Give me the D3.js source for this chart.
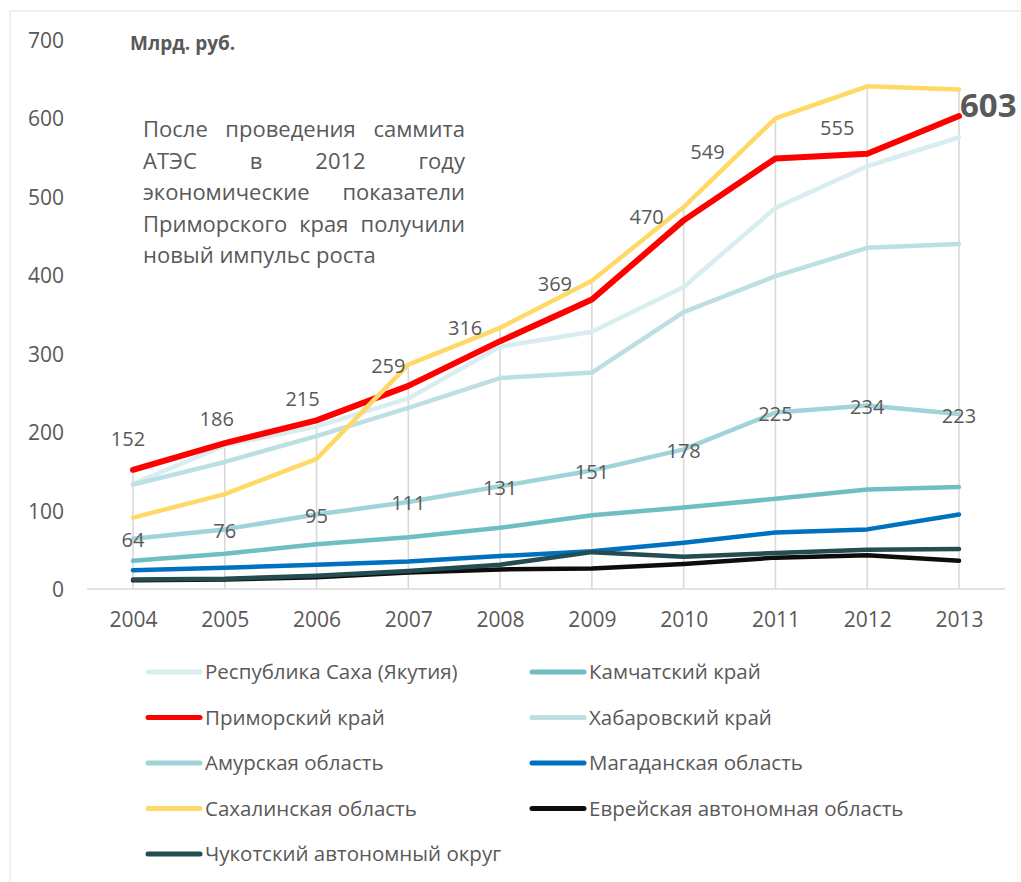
<!DOCTYPE html>
<html><head><meta charset="utf-8">
<script src="https://cdn.jsdelivr.net/npm/d3@7"></script>
<style>
html,body{margin:0;padding:0;background:#fff;}
svg{display:block;font-family:"Open Sans","Noto Sans",sans-serif;}
</style></head>
<body>
<svg id="chart" width="1021" height="882"></svg>
<script>
// ---------- DATA ----------
const years = ["2004","2005","2006","2007","2008","2009","2010","2011","2012","2013"];
const yTicks = [0,100,200,300,400,500,600,700];
const seriesNames = ["Республика Саха (Якутия)","Камчатский край","Приморский край","Хабаровский край","Амурская область","Магаданская область","Сахалинская область","Еврейская автономная область","Чукотский автономный округ"];
const sakha      = [134,183,207,243,309,328,385,486,539,576];
const kamchatka  = [36,45,57,66,78,94,104,115,127,130];
const primorsky  = [152,186,215,259,316,369,470,549,555,603];
const khabarovsk = [133,162,195,231,269,276,353,399,435,440];
const amur       = [64,76,95,111,131,151,178,225,234,223];
const magadan    = [24,27,31,35,42,48,59,72,76,95];
const sakhalin   = [91,121,166,286,333,393,487,600,641,637];
const jewish     = [11,12,15,21,25,26,32,40,43,36];
const chukotka   = [12,13,17,23,31,47,41,46,50,51];
const unitLabel = "Млрд. руб.";
const noteLines = ["После проведения саммита","АТЭС в 2012 году","экономические показатели","Приморского края получили","новый импульс роста"];

// ---------- STYLE ----------
const colors = ["#d9edf0","#70bec4","#ff0000","#bcdfe2","#a0d4d8","#0070c0","#ffd966","#0d0d0d","#234d51"];
const widths = [4.5,4.5,6,4.5,4.5,4.5,4.5,4.5,4.5];
const seriesData = [sakha,kamchatka,primorsky,khabarovsk,amur,magadan,sakhalin,jewish,chukotka];
// label offsets for Primorsky labels (placement, in px)
const primDx = [-5,-8,-14,-20,-35,-37,-37,-68,-30];
const primDy = [-31,-25,-22,-20,-14,-16,-4,-7,-26];
const textColor = "#595959";

const svg = d3.select("#chart");
svg.append("rect").attr("width",1021).attr("height",882).attr("fill","#fff");
// chart frame (top & left visible)
svg.append("rect").attr("x",10).attr("y",11).attr("width",1030).attr("height",900)
  .attr("fill","none").attr("stroke","#e6e6e6").attr("stroke-width",1.2);

const x = d3.scalePoint().domain(years).range([133,959]);
const y = d3.scaleLinear().domain([0,700]).range([589,40]);
const step = x.step();

// drop lines
const maxByYear = years.map((yr,i)=>d3.max(seriesData,s=>s[i]));
svg.append("g").selectAll("line").data(years).join("line")
  .attr("x1",d=>x(d)).attr("x2",d=>x(d))
  .attr("y1",(d,i)=>y(maxByYear[i])).attr("y2",y(0))
  .attr("stroke","#d9d9d9").attr("stroke-width",1.6);

// x axis line
svg.append("line").attr("x1",x(years[0])-step/2).attr("x2",x(years[years.length-1])+step/2)
  .attr("y1",y(0)).attr("y2",y(0)).attr("stroke","#d9d9d9").attr("stroke-width",1.6);

// y axis
const gy = svg.append("g").attr("transform","translate(64,0)")
  .call(d3.axisLeft(y).tickValues(yTicks).tickSize(0).tickPadding(0).tickFormat(d3.format("d")));
gy.select(".domain").remove();
gy.selectAll("text").attr("fill",textColor).style("font-size","21px").style("font-family","'Open Sans'").attr("dy","0.36em");

// x axis labels
const gx = svg.append("g").attr("transform",`translate(0,${y(0)})`)
  .call(d3.axisBottom(x).tickSize(0).tickPadding(23));
gx.select(".domain").remove();
gx.selectAll("text").attr("fill",textColor).style("font-size","21px").style("font-family","'Open Sans'");

// lines
const line = d3.line().x((d,i)=>x(years[i])).y(d=>y(d));
svg.append("g").selectAll("path").data(seriesData).join("path")
  .attr("d",d=>line(d)).attr("fill","none")
  .attr("stroke",(d,i)=>colors[i]).attr("stroke-width",(d,i)=>widths[i])
  .attr("stroke-linejoin","round").attr("stroke-linecap","round");

// Amur labels
svg.append("g").selectAll("text").data(amur).join("text")
  .attr("x",(d,i)=>x(years[i])).attr("y",d=>y(d)+8.5)
  .attr("text-anchor","middle").attr("fill",textColor).style("font-size","20px")
  .text(d=>d);

// Primorsky labels
svg.append("g").selectAll("text").data(primorsky.slice(0,9)).join("text")
  .attr("x",(d,i)=>x(years[i])+primDx[i]).attr("y",(d,i)=>y(d)+primDy[i]+7.5)
  .attr("text-anchor","middle").attr("fill",textColor).style("font-size","20px")
  .text(d=>d);
svg.append("text").attr("x",x(years[9])+1).attr("y",y(primorsky[9])+1)
  .attr("fill",textColor).style("font-size","33px").style("font-weight","bold")
  .text(primorsky[9]);

// unit label
svg.append("text").attr("x",130).attr("y",50).attr("fill",textColor)
  .style("font-size","19px").style("font-weight","bold").text(unitLabel);

// annotation (justified)
const noteLeft = 143, noteRight = 465, noteTop = 137, noteStep = 31.5;
const note = svg.append("g").style("font-size","22px").attr("fill",textColor);
noteLines.forEach((ln,li)=>{
  const words = ln.split(" ");
  const by = noteTop + li*noteStep;
  if (li === noteLines.length-1) {
    note.append("text").attr("x",noteLeft).attr("y",by).text(ln);
    return;
  }
  const ws = words.map(w=>{
    const t = note.append("text").attr("x",-1000).attr("y",-1000).text(w);
    const wd = t.node().getComputedTextLength(); t.remove(); return wd;
  });
  const gap = (noteRight-noteLeft-d3.sum(ws))/(words.length-1);
  let cx = noteLeft;
  words.forEach((w,wi)=>{
    note.append("text").attr("x",cx).attr("y",by).text(w);
    cx += ws[wi]+gap;
  });
});

// legend
const legX = [148,532], legY0 = 672, legStep = 45.5;
const leg = svg.append("g");
seriesNames.forEach((nm,i)=>{
  const col = i%2, row = Math.floor(i/2);
  const gx0 = legX[col], gy0 = legY0 + row*legStep;
  leg.append("line").attr("x1",gx0).attr("x2",gx0+52).attr("y1",gy0).attr("y2",gy0)
    .attr("stroke",colors[i]).attr("stroke-width",5).attr("stroke-linecap","round");
  leg.append("text").attr("x",gx0+57).attr("y",gy0+7).attr("fill",textColor)
    .style("font-size","20.5px").text(nm);
});
</script>
</body></html>
